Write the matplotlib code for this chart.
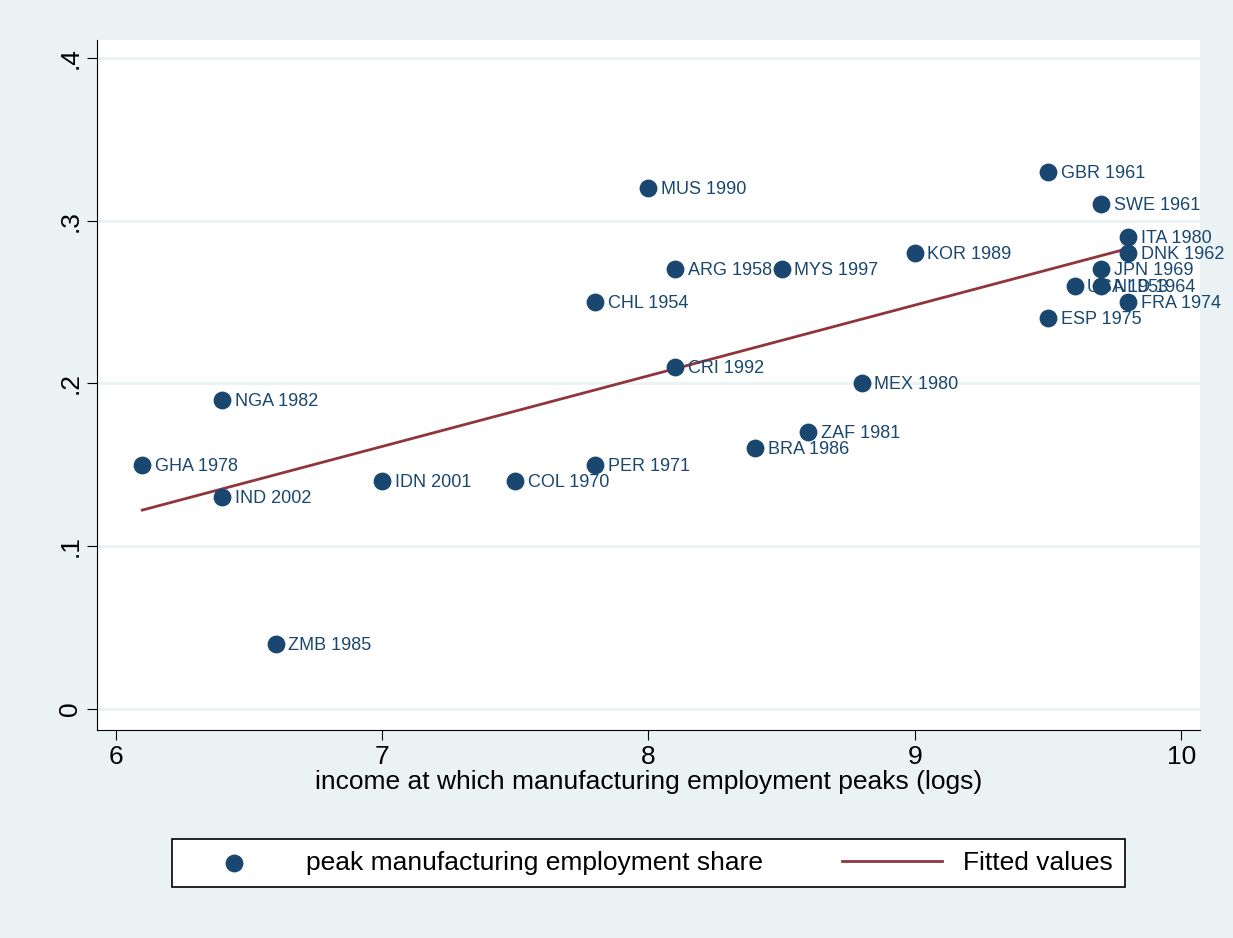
import matplotlib
matplotlib.use("Agg")
import matplotlib.pyplot as plt
import numpy as np

labels = ["GHA 1978", "NGA 1982", "IND 2002", "ZMB 1985", "IDN 2001", "COL 1970",
          "CHL 1954", "PER 1971", "MUS 1990", "ARG 1958", "CRI 1992", "BRA 1986",
          "MYS 1997", "ZAF 1981", "MEX 1980", "KOR 1989", "GBR 1961", "ESP 1975",
          "USA 1953", "SWE 1961", "JPN 1969", "NLD 1964", "ITA 1980", "DNK 1962",
          "FRA 1974"]
x = [6.1, 6.4, 6.4, 6.6, 7.0, 7.5, 7.8, 7.8, 8.0, 8.1, 8.1, 8.4,
     8.5, 8.6, 8.8, 9.0, 9.5, 9.5, 9.6, 9.7, 9.7, 9.7, 9.8, 9.8, 9.8]
y = [0.15, 0.19, 0.13, 0.04, 0.14, 0.14, 0.25, 0.15, 0.32, 0.27, 0.21, 0.16,
     0.27, 0.17, 0.20, 0.28, 0.33, 0.24, 0.26, 0.31, 0.27, 0.26, 0.29, 0.28, 0.25]

navy = "#1a476f"
red = "#90353b"
bg = "#eaf2f3"

plt.rcParams["font.family"] = ["Liberation Sans", "DejaVu Sans"]

fig = plt.figure(figsize=(12.33, 9.38), dpi=100, facecolor=bg)
ax = fig.add_axes([97 / 1233, 1 - 730 / 938, 1103 / 1233, 690 / 938])
ax.set_facecolor("white")

ax.scatter(x, y, s=140, color=navy, zorder=3, label="peak manufacturing employment share")
for xi, yi, lab in zip(x, y, labels):
    ax.annotate(lab, (xi, yi), xytext=(9, -1), textcoords="offset points",
                va="center", ha="left", fontsize=13, color=navy, zorder=4)

b, a = np.polyfit(x, y, 1)
xs = np.array([min(x), max(x)])
ax.plot(xs, a + b * xs, color=red, lw=2, zorder=2, label="Fitted values")

ax.set_xlim(5.93, 10.07)
ax.set_ylim(-0.013, 0.411)
ax.set_xticks([6, 7, 8, 9, 10])
ax.set_yticks([0, 0.1, 0.2, 0.3, 0.4])
ax.set_yticklabels(["0", ".1", ".2", ".3", ".4"], rotation=90, va="center")
ax.tick_params(labelsize=19, length=7, color="black")
ax.grid(axis="y", color=bg, lw=2)
ax.set_axisbelow(True)
for s in ["top", "right"]:
    ax.spines[s].set_visible(False)
ax.set_xlabel("income at which manufacturing employment peaks (logs)", fontsize=19, labelpad=1)

leg = ax.legend(loc="upper center", bbox_to_anchor=(0.5, -0.158), ncol=2, fontsize=19,
                frameon=True, fancybox=False, edgecolor="black", facecolor="white",
                framealpha=1, handlelength=3.8, columnspacing=3, borderpad=0.45,
                scatterpoints=1, handletextpad=0.8, borderaxespad=0)
leg.get_frame().set_linewidth(1.2)

fig.savefig("out.png", dpi=100, facecolor=bg)
